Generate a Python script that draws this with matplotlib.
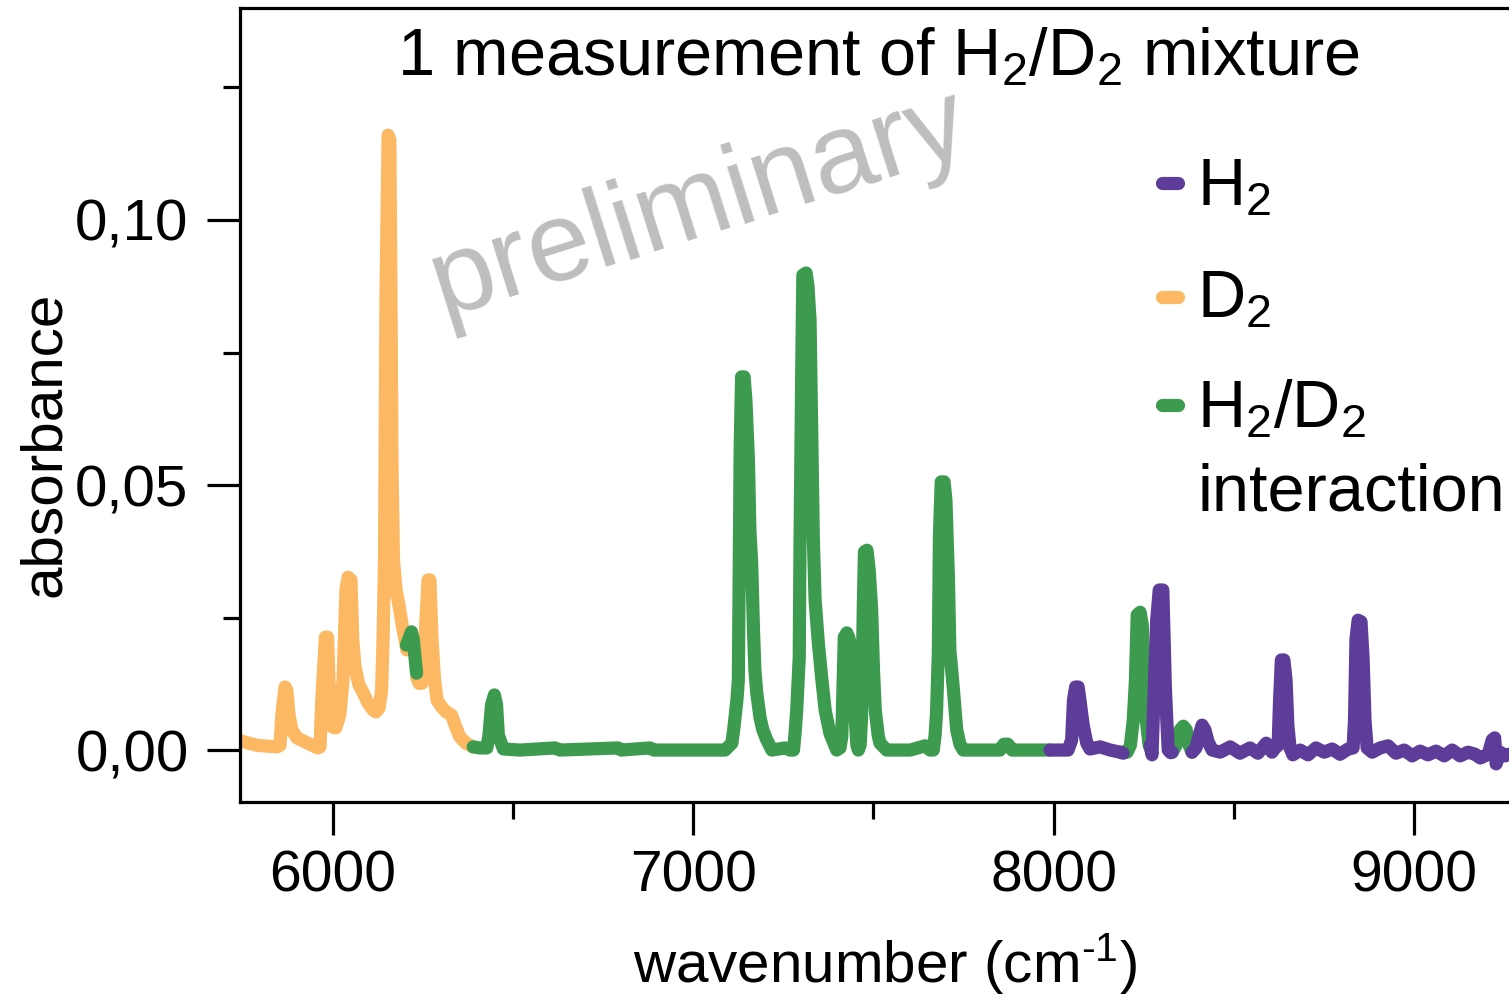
import numpy as np
import matplotlib
matplotlib.use("Agg")
import matplotlib.pyplot as plt
from matplotlib.lines import Line2D
from matplotlib.ticker import MultipleLocator, FuncFormatter

plt.rcParams["font.family"] = ["Liberation Sans", "DejaVu Sans"]
plt.rcParams["mathtext.fontset"] = "custom"
plt.rcParams["mathtext.rm"] = "Liberation Sans"
plt.rcParams["mathtext.it"] = "Liberation Sans:italic"
plt.rcParams["mathtext.default"] = "regular"

nan = np.nan

# D2 absorption band (cm^-1, absorbance); NaN marks the part drawn as interaction
d2_x = [5745, 5788, 5844, 5853, 5858, 5867, 5872, 5878, 5886, 5900, 5936, 5958,
        5964, 5969, 5979, 5985, 5989, 5994, 6000, 6008, 6019, 6028, 6036, 6042,
        6050, 6055, 6061, 6072, 6084, 6097, 6112, 6119, 6128, 6135, 6139, 6143,
        6147, 6153, 6158, 6161, 6164, 6168, 6175, 6183, 6192, 6200, 6205, nan,
        6232, 6239, 6247, 6253, 6258, 6264, 6269, 6275, 6282, 6289, 6302, 6314,
        6329, 6339, 6352, 6369, 6389]
d2_y = [0.0017, 0.0009, 0.0006, 0.0009, 0.0066, 0.0119, 0.0113, 0.0066, 0.0038,
        0.0023, 0.0011, 0.0004, 0.0006, 0.0094, 0.0213, 0.0213, 0.0132, 0.0047,
        0.0043, 0.0042, 0.0066, 0.0132, 0.0302, 0.0326, 0.0321, 0.0208, 0.0157,
        0.0123, 0.0108, 0.0089, 0.0075, 0.0072, 0.0079, 0.0113, 0.0208, 0.0358,
        0.0849, 0.1160, 0.1151, 0.0849, 0.0528, 0.0358, 0.0302, 0.0274, 0.0236,
        0.0208, 0.0189, nan, 0.0138, 0.0126, 0.0126, 0.0151, 0.0245, 0.0321,
        0.0321, 0.0208, 0.0132, 0.0094, 0.0081, 0.0072, 0.0066, 0.0047, 0.0025,
        0.0013, 0.0006]

# H2/D2 collision-induced (interaction) features, NaN separates the pieces
hd_x = [6204, 6218, 6223, 6232, nan,
        6389, 6408, 6427, 6433, 6440, 6448, 6454, 6459, 6473, 6519, 6616, 6630,
        6791, 6800, 6880, 6890, 7019, 7088,
        7107, 7112, 7116, 7121, 7125, 7127, 7130, 7134, 7141, 7146, 7153, 7157,
        7162, 7167, 7171, 7176, 7185, 7193, 7204, 7218, 7255, 7268,
        7278, 7282, 7287, 7294, 7296, 7301, 7304, 7313, 7318, 7324, 7329, 7333,
        7338, 7347, 7356, 7366, 7379, 7398,
        7407, 7412, 7416, 7419, 7426, 7432, 7439, 7444, 7449, 7454, 7458,
        7463, 7467, 7472, 7475, 7482, 7488, 7495, 7500, 7505, 7513, 7518, 7537,
        7602, 7643, 7657,
        7666, 7671, 7675, 7680, 7683, 7688, 7696, 7701, 7708, 7712, 7722, 7731,
        7740, 7749, 7851, 7862, 7873, 7885, 7990, nan,
        8187, 8204, 8213, 8221, 8227, 8232, 8240, 8246, 8251, 8257, 8265, 8273, nan,
        8329, 8340, 8351, 8360, 8368, 8376, 8384]
hd_y = [0.0198, 0.0223, 0.0208, 0.0145, nan,
        0.0006, 0.0004, 0.0004, 0.0028, 0.0085, 0.0104, 0.0085, 0.0028, 0.0002,
        0.0, 0.0004, 0.0, 0.0004, 0.0, 0.0004, 0.0, 0.0, 0.0,
        0.0013, 0.0038, 0.0063, 0.0094, 0.0132, 0.0296, 0.0566, 0.0704, 0.0704,
        0.0660, 0.0547, 0.0415, 0.0353, 0.0226, 0.0151, 0.0108, 0.0062, 0.0038,
        0.0019, 0.0, 0.0004, 0.0,
        0.0, 0.0028, 0.0075, 0.0175, 0.0377, 0.0723, 0.0896, 0.0900, 0.0877,
        0.0811, 0.0585, 0.0402, 0.0283, 0.0202, 0.0138, 0.0075, 0.0032, 0.0,
        0.0004, 0.0025, 0.0132, 0.0213, 0.0221, 0.0211, 0.0189, 0.0132, 0.0062,
        0.0009, 0.0,
        0.0009, 0.0062, 0.0277, 0.0374, 0.0377, 0.0340, 0.0264, 0.0151, 0.0075,
        0.0028, 0.0013, 0.0,
        0.0, 0.0008, 0.0,
        0.0, 0.0028, 0.0070, 0.0183, 0.0402, 0.0506, 0.0506, 0.0472, 0.0326,
        0.0189, 0.0113, 0.0038, 0.0011, 0.0, 0.0, 0.0011, 0.0011, 0.0, 0.0, nan,
        -0.0004, -0.0004, 0.0009, 0.0057, 0.0132, 0.0255, 0.0260, 0.0236, 0.0132,
        0.0057, 0.0009, -0.0004, nan,
        -0.0004, 0.0009, 0.0038, 0.0045, 0.0038, 0.0009, -0.0004]

# H2 absorption lines
h2_x = [7990, 8040, 8050, 8055, 8061, 8068, 8073, 8082, 8092, 8101, 8129, 8157,
        8184, 8193, nan,
        8268, 8273, 8281, 8286, 8293, 8303, 8306, 8310, 8314, 8318, 8325, 8329, nan,
        8384, 8395, 8404, 8412, 8420, 8429, 8440, 8462, 8490, 8517, 8545, 8567,
        8590, 8606, 8617, 8623, 8627, 8632, 8639, 8645, 8650, 8656, 8664, 8684,
        8706, 8728, 8751, 8773, 8795, 8817, 8831, 8835, 8839, 8845, 8853, 8859,
        8864, 8870, 8884, 8906, 8928, 8950, 8973, 8995, 9017, 9039, 9061, 9084,
        9106, 9128, 9150, 9170, 9184, 9206, 9217, 9224, 9228, 9239, 9253, 9272,
        9294]
h2_y = [0.0, 0.0, 0.0019, 0.0094, 0.0119, 0.0119, 0.0094, 0.0047, 0.0013,
        0.0002, 0.0006, 0.0, -0.0004, -0.0006, nan,
        0.0009, -0.0009, 0.0151, 0.0245, 0.0302, 0.0302, 0.0226, 0.0119, 0.0057,
        0.0, -0.0005, -0.0004, nan,
        -0.0004, 0.0004, 0.0028, 0.0047, 0.0038, 0.0015, 0.0, -0.0004, 0.0006,
        -0.0006, 0.0004, -0.0006, 0.0013, -0.0004, 0.0006, 0.0009, 0.0094,
        0.0170, 0.0170, 0.0132, 0.0047, 0.0004, -0.0009, 0.0, -0.0009, 0.0004,
        -0.0004, 0.0002, -0.0008, 0.0002, 0.0004, 0.0057, 0.0208, 0.0245, 0.0242,
        0.0170, 0.0057, 0.0004, -0.0004, 0.0004, 0.0008, -0.0006, 0.0, -0.0011,
        -0.0002, -0.0009, -0.0002, -0.0011, 0.0, -0.0011, -0.0004, -0.0008,
        -0.0015, -0.0008, 0.0019, 0.0023, -0.0026, -0.0004, -0.0011, -0.0006,
        -0.0009]

y_ticks = [0.00, 0.05, 0.10]
x_ticks = [6000, 7000, 8000, 9000]

c_h2 = "#5e3c99"
c_d2 = "#fdb863"
c_hd = "#3d9b4f"

W, H = 1509, 996
fig = plt.figure(figsize=(W / 100, H / 100), dpi=100)


def fx(px):
    return px / W


def fy(py):
    return 1 - py / H


ax = fig.add_axes([fx(240), fy(802), fx(1530) - fx(240), fy(8.5) - fy(802)])
ax.set_xlim(5742, 9322)
ax.set_ylim(-0.0098, 0.1399)

lw = 9.5
kw = dict(lw=lw, solid_capstyle="round", solid_joinstyle="round")
ax.plot(d2_x, d2_y, color=c_d2, **kw)
ax.plot(hd_x, hd_y, color=c_hd, **kw)
ax.plot(h2_x, h2_y, color=c_h2, **kw)

for side in ("left", "bottom", "top"):
    ax.spines[side].set_linewidth(2.3)
ax.spines["right"].set_visible(False)

ax.set_xticks(x_ticks)
ax.set_yticks(y_ticks)
ax.xaxis.set_minor_locator(MultipleLocator(500))
ax.yaxis.set_minor_locator(MultipleLocator(0.025))
ax.yaxis.set_major_formatter(FuncFormatter(lambda v, p: f"{v:.2f}".replace(".", ",")))
ax.tick_params(which="major", direction="out", length=24, width=2.3, labelsize=41, pad=10)
ax.tick_params(axis="y", which="major", labelsize=42, pad=13)
ax.tick_params(which="minor", direction="out", length=12.5, width=2.3)
ax.tick_params(top=False, which="both")

ax.set_xlabel(r"wavenumber (cm$^{\text{-}1}$)", fontsize=42, labelpad=20)
ax.set_ylabel("absorbance", fontsize=42)
ax.yaxis.set_label_coords((72 - 240) / 1290, 0.451)

fig.text(fx(878), fy(75), r"1 measurement of H$_2$/D$_2$ mixture", fontsize=48,
         ha="center", va="baseline")

fig.text(fx(699), fy(205), "preliminary", fontsize=82, color="#bebebe",
         rotation=17.5, ha="center", va="center", rotation_mode="anchor")

legend_rows = [(c_h2, "H$_2$", 183, 205),
               (c_d2, "D$_2$", 297, 317),
               (c_hd, "H$_2$/D$_2$", 405, 427)]
for col, lab, yh, yb in legend_rows:
    fig.add_artist(Line2D([fx(1162), fx(1178)], [fy(yh), fy(yh)], color=col,
                          lw=lw, solid_capstyle="round", transform=fig.transFigure))
    fig.text(fx(1197), fy(yb), lab, fontsize=48, ha="left", va="baseline")
fig.text(fx(1197), fy(510), "interaction", fontsize=48, ha="left", va="baseline")

fig.savefig("out.png", dpi=100)
